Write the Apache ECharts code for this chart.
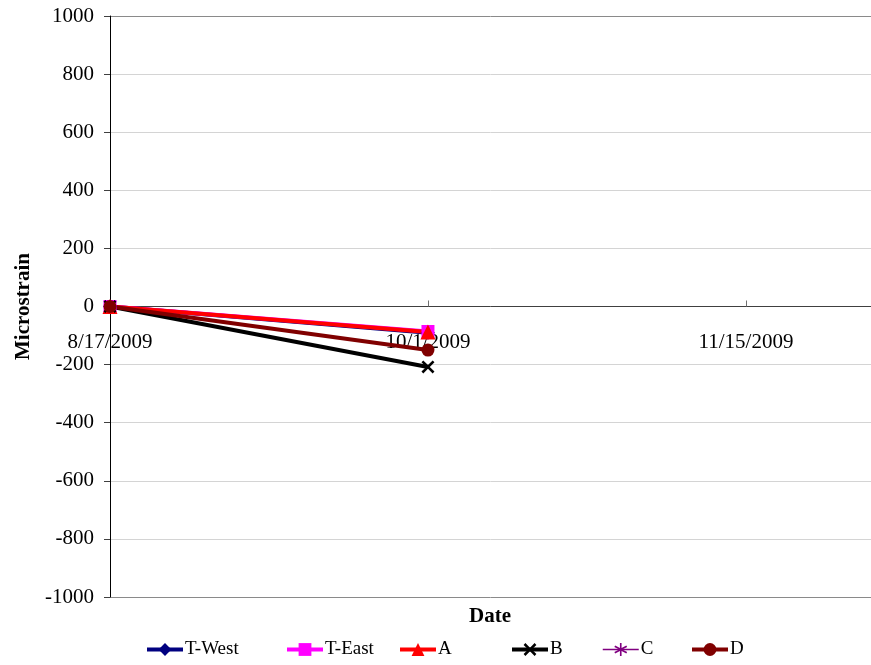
<!DOCTYPE html>
<html>
<head>
<meta charset="utf-8">
<script src="https://cdn.jsdelivr.net/npm/echarts@6/dist/echarts.min.js"></script>
<style>
  html, body { margin: 0; padding: 0; background: #fff; }
  #chart { width: 871px; height: 665px; }
</style>
</head>
<body>
<div id="chart"></div>
<script>
// Gauge readings (microstrain) by reading date
const dates = ['2009-08-17', '2009-10-01'];
const tWest = [0, -90];
const tEast = [0, -86];
const gaugeA = [0, -88];
const gaugeB = [0, -208];
const gaugeC = [0, -150];
const gaugeD = [0, -150];
const yTicks = [-1000, -800, -600, -400, -200, 0, 200, 400, 600, 800, 1000];
const seriesNames = ['T-West', 'T-East', 'A', 'B', 'C', 'D'];

const DAY = 86400000;
const toMs = s => { const p = s.split('-').map(Number); return Date.UTC(p[0], p[1] - 1, p[2]); };
const xStart = toMs(dates[0]);
const xStep = 45 * DAY;
const xEnd = xStart + 107.7 * DAY;

const fmtDate = v => {
  const d = new Date(v);
  return (d.getUTCMonth() + 1) + '/' + d.getUTCDate() + '/' + d.getUTCFullYear();
};

const pair = vals => dates.map((d, i) => [toMs(d), vals[i]]);

const XPATH = 'path://M0,1.4 L1.4,0 L5,3.6 L8.6,0 L10,1.4 L6.4,5 L10,8.6 L8.6,10 L5,6.4 L1.4,10 L0,8.6 L3.6,5 Z';
const STAR = 'path://M4.4,0 L5.6,0 L5.6,3.9 L9.1,1.9 L9.7,3 L6.2,5 L9.7,7 L9.1,8.1 L5.6,6.1 L5.6,10 L4.4,10 L4.4,6.1 L0.9,8.1 L0.3,7 L3.8,5 L0.3,3 L0.9,1.9 L4.4,3.9 Z';

// per-series look: colour, marker, marker size, line width
const looks = [
  { color: '#000080', symbol: 'diamond', size: 14, width: 4 },
  { color: '#ff00ff', symbol: 'rect', size: 13, width: 4 },
  { color: '#ff0000', symbol: 'triangle', size: 15, width: 4 },
  { color: '#000000', symbol: XPATH, size: 13, width: 4 },
  { color: '#800080', symbol: STAR, size: 10, width: 1.5 },
  { color: '#800000', symbol: 'circle', size: 13, width: 4 }
];
const values = [tWest, tEast, gaugeA, gaugeB, gaugeC, gaugeD];

function mk(i) {
  const lk = looks[i];
  return {
    name: seriesNames[i],
    type: 'line',
    data: pair(values[i]),
    symbol: lk.symbol,
    symbolSize: lk.size,
    showSymbol: true,
    lineStyle: { color: lk.color, width: lk.width },
    itemStyle: { color: lk.color, borderWidth: 0 },
    emphasis: { disabled: true },
    animation: false
  };
}

// legend entries laid out one by one along the bottom
const legendLeft = [145, 285, 398, 510, 602, 690];
const legends = seriesNames.map((n, i) => ({
  data: [n],
  left: legendLeft[i],
  bottom: 6,
  padding: 0,
  itemWidth: 36,
  itemHeight: 16,
  selectedMode: false,
  lineStyle: { width: looks[i].width },
  textStyle: { fontFamily: 'Liberation Serif', fontSize: 19, color: '#000', padding: [0, 0, 0, -3] }
}));

const gridTop = 16, gridBottom = 68, H = 665;
const plotH = H - gridTop - gridBottom;
const zeroShift = plotH * (0 - yTicks[0]) / (yTicks[yTicks.length - 1] - yTicks[0]);

const gridColors = yTicks.map((t, i) => (i === 0 || i === yTicks.length - 1) ? '#8a8a8a' : '#d4d4d4');

const chart = echarts.init(document.getElementById('chart'));
chart.setOption({
  backgroundColor: '#ffffff',
  textStyle: { fontFamily: 'Liberation Serif' },
  grid: { left: 110, right: 0, top: gridTop, bottom: gridBottom, containLabel: false, outerBoundsMode: 'none' },
  xAxis: {
    type: 'value',
    min: xStart,
    max: xEnd,
    interval: xStep,
    offset: -zeroShift,
    axisLine: { onZero: false, lineStyle: { color: '#404040', width: 1 } },
    axisTick: { show: true, inside: true, length: 6, lineStyle: { color: '#707070' } },
    axisLabel: {
      formatter: v => fmtDate(v),
      showMaxLabel: false,
      margin: 25,
      fontFamily: 'Liberation Serif',
      fontSize: 21,
      color: '#000'
    },
    splitLine: { show: false }
  },
  yAxis: {
    type: 'value',
    min: yTicks[0],
    max: yTicks[yTicks.length - 1],
    interval: 200,
    name: 'Microstrain',
    nameLocation: 'middle',
    nameGap: 76,
    nameTextStyle: { fontFamily: 'Liberation Serif', fontWeight: 'bold', fontSize: 21, color: '#000' },
    axisLine: { show: true, onZero: false, lineStyle: { color: '#000', width: 1 } },
    axisTick: { show: true, length: 6, lineStyle: { color: '#404040' } },
    axisLabel: { formatter: v => String(v), fontFamily: 'Liberation Serif', fontSize: 21, color: '#000', margin: 16 },
    splitLine: { show: true, lineStyle: { color: gridColors, width: 1 } }
  },
  graphic: [{
    type: 'text',
    left: 469,
    top: 606,
    silent: true,
    style: { text: 'Date', font: 'bold 21px "Liberation Serif"', fill: '#000' }
  }],
  legend: legends,
  series: seriesNames.map((n, i) => mk(i))
});
</script>
</body>
</html>
